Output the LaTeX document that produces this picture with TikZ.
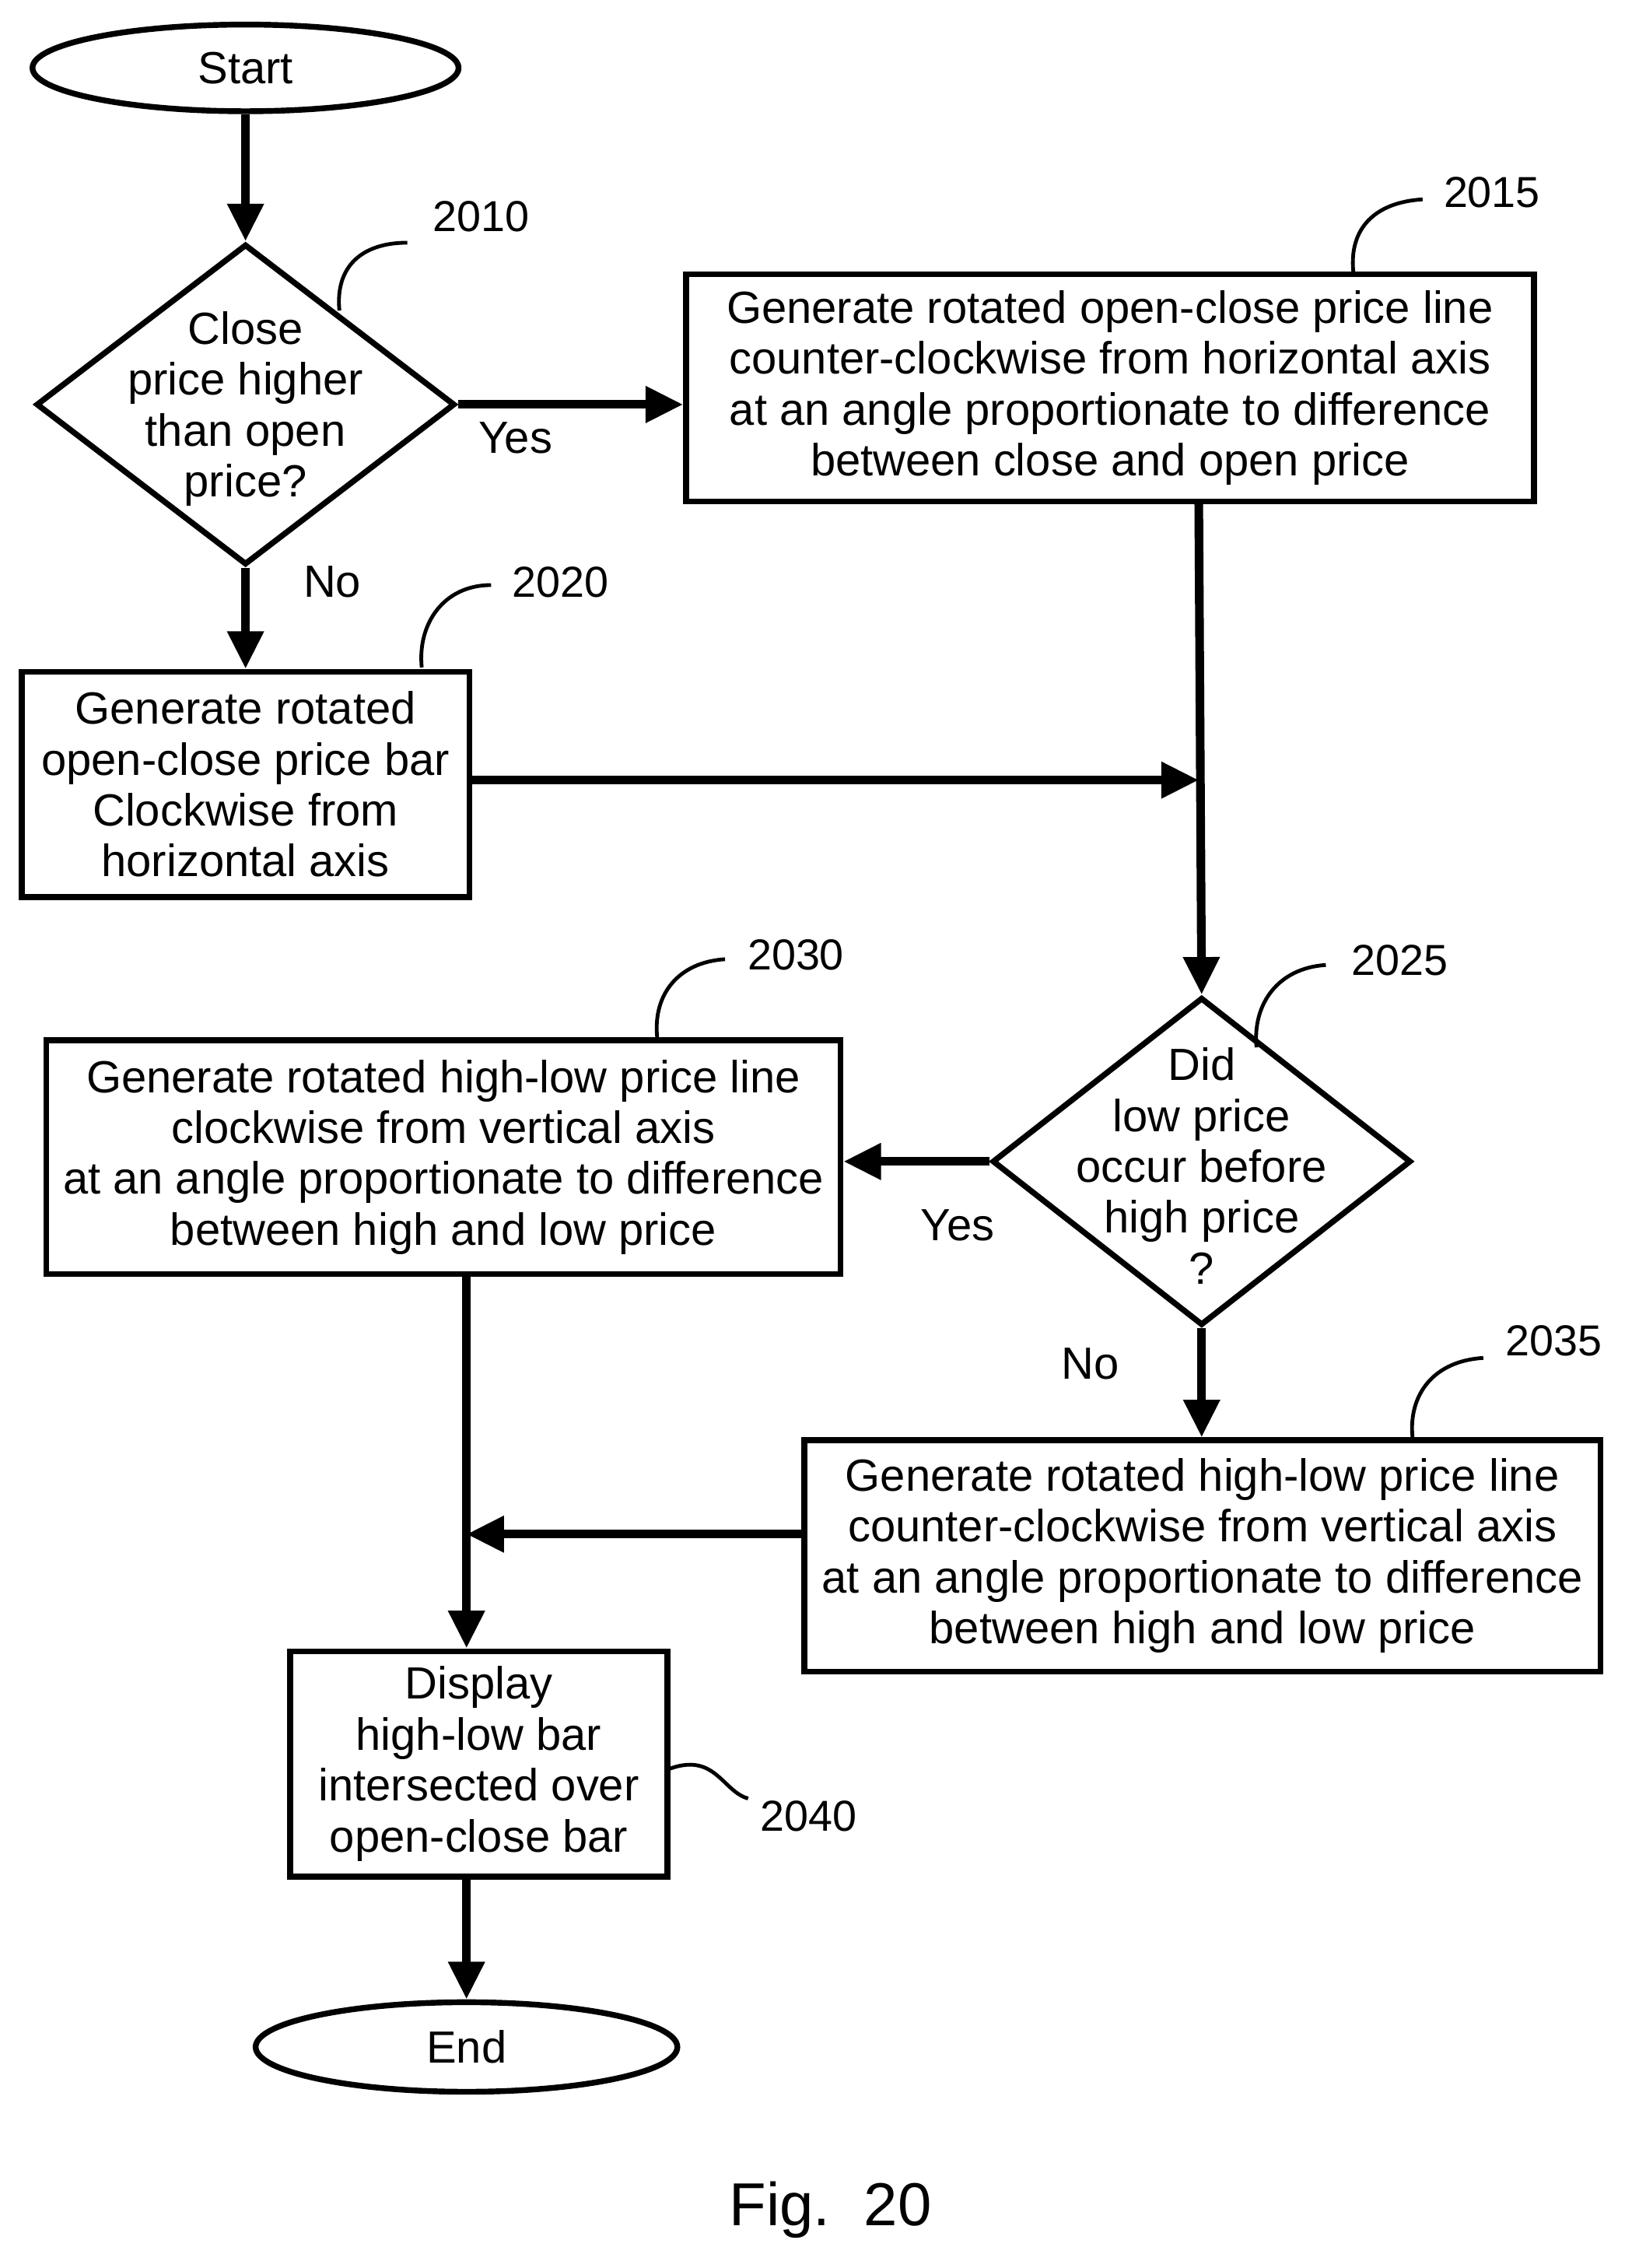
\documentclass[tikz,border=0pt]{standalone}
\usepackage{fontspec}
\setmainfont{Liberation Sans}
\usetikzlibrary{shapes.geometric,arrows.meta}
\begin{document}
\begin{tikzpicture}[x=0.5pt,y=-0.5pt,
  every node/.style={font=\fontsize{15.6}{17.6}\selectfont, align=center, inner sep=0pt},
  arr/.style={line width=3pt, -{Triangle[length=13pt,width=12pt]}},
  lead/.style={line width=1.3pt},
  lbl/.style={font=\fontsize{15}{17}\selectfont}]
\useasboundingbox (0,0) rectangle (1125,1570);
\node[draw, ellipse, line width=2pt, minimum width=147.5pt, minimum height=30pt] (start) at (170,47) {Start};
\node[draw, diamond, line width=2pt, minimum width=145pt, minimum height=111pt] (d1) at (170,280) {};
\node at (170,283) {Close\\price higher\\than open\\price?};
\node[draw, line width=2pt, minimum width=293.5pt, minimum height=78.5pt] (b15) at (768.5,268.5) {Generate rotated open-close price line\\counter-clockwise from horizontal axis\\at an angle proportionate to difference\\between close and open price};
\node[draw, line width=2pt, minimum width=155pt, minimum height=78pt] (b20) at (170,543) {Generate rotated\\open-close price bar\\Clockwise from\\horizontal axis};
\node[draw, diamond, line width=2pt, minimum width=145pt, minimum height=113.5pt] (d2) at (832,804) {};
\node at (832,807) {Did\\low price\\occur before\\high price\\?};
\node[draw, line width=2pt, minimum width=275pt, minimum height=81pt] (b30) at (307,801) {Generate rotated high-low price line\\clockwise from vertical axis\\at an angle proportionate to difference\\between high and low price};
\node[draw, line width=2pt, minimum width=275.5pt, minimum height=80pt] (b35) at (832.5,1077) {Generate rotated high-low price line\\counter-clockwise from vertical axis\\at an angle proportionate to difference\\between high and low price};
\node[draw, line width=2pt, minimum width=130.5pt, minimum height=78pt] (b40) at (331.5,1221) {Display\\high-low bar\\intersected over\\open-close bar};
\node[draw, ellipse, line width=2pt, minimum width=146pt, minimum height=31pt] (end) at (323,1417) {End};
\node[font=\fontsize{21}{24}\selectfont] (fig) at (575,1530) {Fig.\ \ 20};
\coordinate (m1) at (830,540);
\coordinate (m2) at (323,1062);
\draw[arr] (start) -- (d1.north);
\draw[arr] (d1.east) -- (d1.east -| b15.west);
\draw[arr] (d1.south) -- (b20.north);
\draw[arr] (b15.south -| m1) -- (d2.north);
\draw[arr] (b20.east |- m1) -- (m1);
\draw[arr] (d2.west) -- (d2.west -| b30.east);
\draw[arr] (d2.south) -- (b35.north -| d2.south);
\draw[arr] (b30.south -| m2) -- (b40.north -| m2);
\draw[arr] (b35.west |- m2) -- (m2);
\draw[arr] (b40.south -| end.north) -- (end.north);
\node (yes1) at (357,303) {Yes};
\node (no1) at (230,403) {No};
\node (yes2) at (663,848) {Yes};
\node (no2) at (755,944) {No};
\node[lbl] (l10) at (333,150) {2010};
\node[lbl] (l15) at (1033,133) {2015};
\node[lbl] (l20) at (388,403) {2020};
\node[lbl] (l30) at (551,661) {2030};
\node[lbl] (l25) at (969,665) {2025};
\node[lbl] (l35) at (1076,928) {2035};
\node[lbl] (l40) at (560,1257) {2040};
\draw[lead] (235,215) .. controls (232,185) and (250,168) .. (282,168);
\draw[lead] (937,188) .. controls (934,158) and (952,140) .. (985,138);
\draw[lead] (292,462) .. controls (289,432) and (307,405) .. (340,405);
\draw[lead] (455,718) .. controls (452,688) and (470,666) .. (502,664);
\draw[lead] (870,725) .. controls (867,695) and (885,670) .. (918,668);
\draw[lead] (978,995) .. controls (975,965) and (993,942) .. (1027,940);
\draw[lead] (462,1225) .. controls (495,1212) and (500,1240) .. (518,1245);
\end{tikzpicture}
\end{document}
